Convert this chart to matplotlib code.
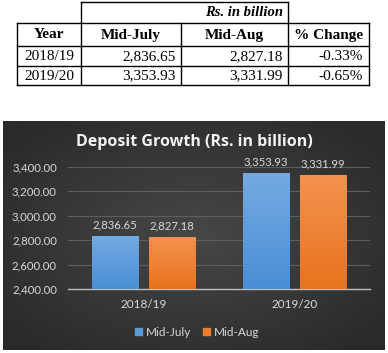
import numpy as np
import matplotlib.pyplot as plt
from matplotlib.colors import LinearSegmentedColormap

# Data
years = ['2018/19', '2019/20']
mid_july = [2836.65, 3353.93]
mid_aug = [2827.18, 3331.99]
pct_change = ['-0.33%', '-0.65%']
series_names = ['Mid-July', 'Mid-Aug']
y_ticks = [2400, 2600, 2800, 3000, 3200, 3400]

W, H = 388, 353
fig = plt.figure(figsize=(W / 100, H / 100), dpi=100)
fig.patch.set_facecolor('white')

# Pixel-coordinate overlay for table and chart panel
bg = fig.add_axes([0, 0, 1, 1])
bg.set_xlim(0, W)
bg.set_ylim(H, 0)
bg.axis('off')

# ---- table ----
serif = 'Liberation Serif'
lw = 1.0
col_x = [17, 81, 181, 288, 369]
row_y = [2, 23, 46, 66, 85]

# outer + inner lines
for y in row_y[1:]:
    bg.plot([col_x[0], col_x[-1]], [y, y], color='black', lw=lw)
bg.plot([col_x[1], col_x[3]], [row_y[0], row_y[0]], color='black', lw=lw)
for i, x in enumerate(col_x):
    top = row_y[0] if i in (1, 3) else row_y[1]
    bg.plot([x, x], [top, row_y[-1]], color='black', lw=lw)

bg.text(283, 13, 'Rs. in billion', family=serif, weight='bold', style='italic',
        fontsize=10.5, ha='right', va='center')
headers = ['Year'] + series_names + ['% Change']
for i, h in enumerate(headers):
    bg.text((col_x[i] + col_x[i + 1]) / 2, 35, h, family=serif, weight='bold',
            fontsize=11, ha='center', va='center')
for r, yr in enumerate(years):
    yc = (row_y[2 + r] + row_y[3 + r]) / 2 + 0.5
    bg.text((col_x[0] + col_x[1]) / 2, yc, yr, family=serif, fontsize=11,
            ha='center', va='center')
    bg.text(col_x[2] - 5, yc, f'{mid_july[r]:,.2f}', family=serif, fontsize=11,
            ha='right', va='center')
    bg.text(col_x[3] - 5, yc, f'{mid_aug[r]:,.2f}', family=serif, fontsize=11,
            ha='right', va='center')
    bg.text(col_x[4] - 6, yc, pct_change[r], family=serif, fontsize=11,
            ha='right', va='center')

# ---- chart panel background (radial gradient) ----
px0, px1, py0, py1 = 3, 385, 121, 350
gx, gy = np.meshgrid(np.linspace(-1, 1, 200), np.linspace(-1, 1, 120))
rr = np.clip(np.sqrt(gx ** 2 + gy ** 2) / 1.3, 0, 1)
panel_cmap = LinearSegmentedColormap.from_list('panel', ['#474747', '#2a2a2a'])
bg.imshow(rr, cmap=panel_cmap, extent=(px0, px1, py1, py0), aspect='auto',
          interpolation='bilinear', zorder=0)
bg.set_xlim(0, W)
bg.set_ylim(H, 0)

font = 'Lato'
bg.text(194, 142, 'Deposit Growth (Rs. in billion)', family='Open Sans', weight='bold',
        fontsize=11.5, color='#f2f2f2', ha='center', va='center')

# ---- bar chart ----
ax_l, ax_r, ax_b, ax_t = 68, 370, 289, 167
ax = fig.add_axes([ax_l / W, (H - ax_b) / H, (ax_r - ax_l) / W, (ax_b - ax_t) / H])
ax.set_facecolor('none')

x = np.arange(len(years))
bw = 0.305
off = bw / 2 + 0.037
styles = [
    (mid_july, -off, '#5b9bd5', ['#75aae2', '#4a8ed5']),
    (mid_aug, off, '#ed7d31', ['#f4924f', '#e8731e']),
]
for vals, dx, c, grad in styles:
    bars = ax.bar(x + dx, vals, width=bw, color=c, zorder=2)
    gcm = LinearSegmentedColormap.from_list('g', [grad[1], grad[0]])
    for b, v in zip(bars, vals):
        im = ax.imshow(np.linspace(0, 1, 64).reshape(-1, 1), cmap=gcm,
                       extent=(b.get_x(), b.get_x() + bw, y_ticks[0], v),
                       origin='lower', aspect='auto', zorder=3)
        im.set_clip_path(b)
        ax.text(b.get_x() + bw / 2, v + 45, f'{v:,.2f}', family=font,
                fontsize=8.2, color='#d9d9d9', ha='center', va='bottom')
ax.set_xlim(-0.5, 1.5)
ax.set_ylim(y_ticks[0], y_ticks[-1])

ax.set_yticks(y_ticks)
ax.set_yticklabels([f'{t:,.2f}' for t in y_ticks])
ax.yaxis.grid(True, color='#5e5e5e', lw=0.8, zorder=0)
ax.set_axisbelow(True)
ax.set_xticks(x)
ax.set_xticklabels(years)
ax.tick_params(axis='both', length=0, labelcolor='#d9d9d9')
ax.tick_params(axis='y', pad=8, labelsize=8.2)
ax.tick_params(axis='x', pad=7, labelsize=8.5)
for lab in ax.get_xticklabels() + ax.get_yticklabels():
    lab.set_family(font)
for s in ['top', 'right', 'left']:
    ax.spines[s].set_visible(False)
ax.spines['bottom'].set_color('#bfbfbf')
ax.spines['bottom'].set_linewidth(1)

# legend
handles = [plt.Rectangle((0, 0), 1, 1, color=c) for c in ['#5b9bd5', '#ed7d31']]
leg = fig.legend(handles, series_names, loc='center', bbox_to_anchor=(197 / W, (H - 332) / H),
                 ncol=2, frameon=False, handlelength=0.6, handleheight=0.6,
                 handletextpad=0.3, columnspacing=1.0,
                 prop={'family': font, 'size': 8.5})
for t in leg.get_texts():
    t.set_color('#d9d9d9')

fig.savefig('out.png', dpi=100)
